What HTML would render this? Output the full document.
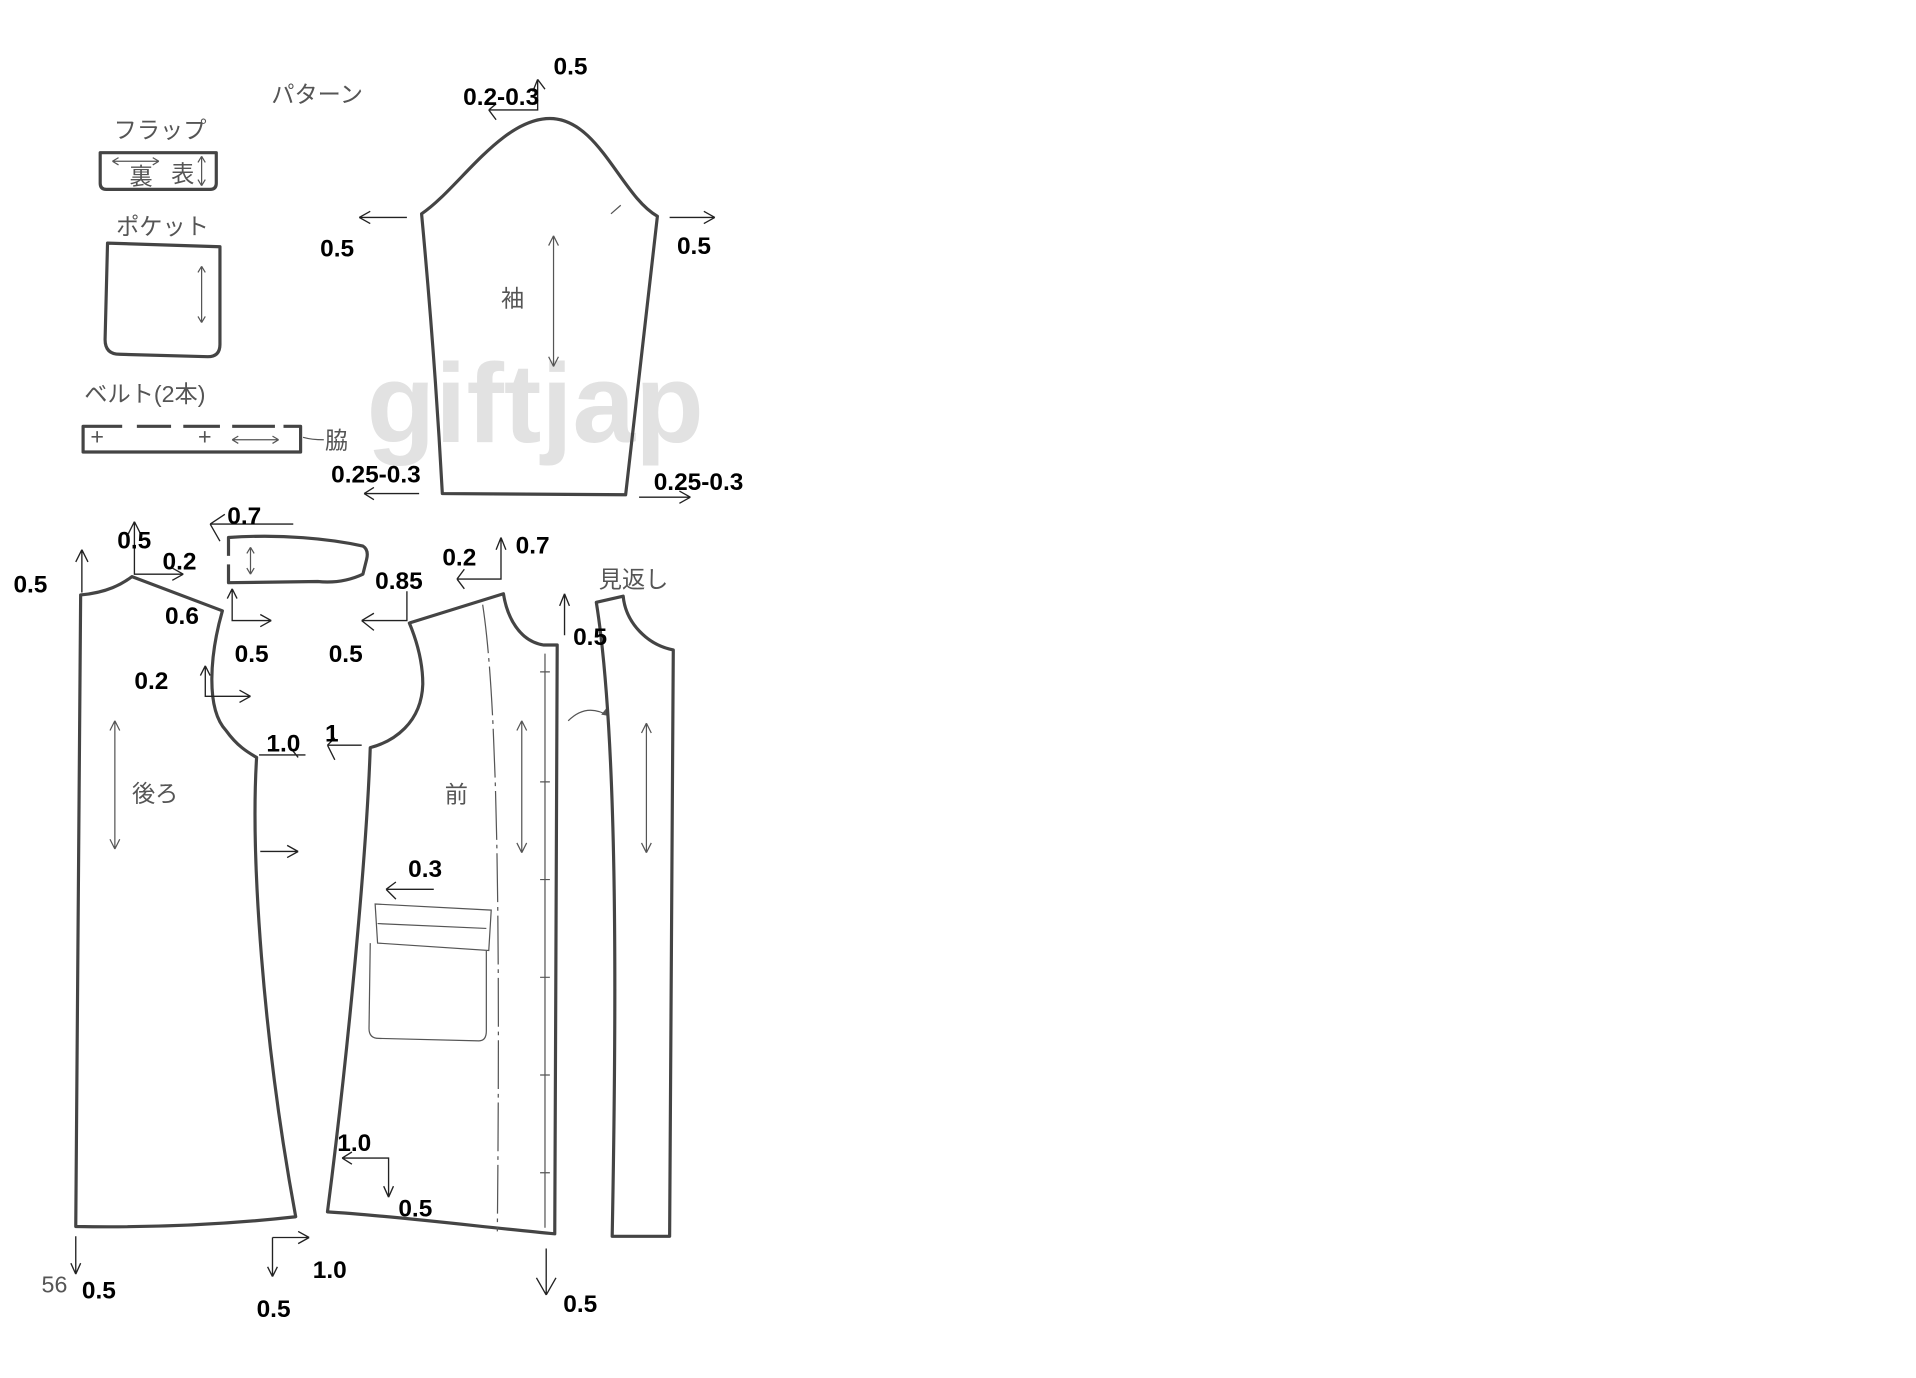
<!DOCTYPE html>
<html><head><meta charset="utf-8"><style>
html,body{margin:0;padding:0;background:#fff;}
svg{display:block;}
.p{fill:none;stroke:#444;stroke-width:2.6;stroke-linejoin:round;}
.t{fill:none;stroke:#555;stroke-width:1;}
.a{fill:none;stroke:#222;stroke-width:1.1;}
.n{font-family:"Liberation Sans",sans-serif;font-weight:bold;font-size:20px;fill:#000;}
.j{font-family:"Liberation Sans","Noto Sans CJK JP",sans-serif;font-size:19px;fill:#555;}
</style></head><body>
<svg width="1916" height="1378" viewBox="0 0 1568 1128" preserveAspectRatio="none" xmlns="http://www.w3.org/2000/svg">
<text x="300" y="362" font-family="Liberation Sans,sans-serif" font-weight="bold" font-size="92" fill="#e2e2e2">giftjap</text>
<text class="j" x="222" y="84" font-size="23">パターン</text>
<text class="j" x="93" y="113">フラップ</text>
<path class="p" d="M82,125 L177,125 L177,150 Q177,155 172,155 L87,155 Q82,155 82,150 Z"/>
<text class="j" x="106" y="151" font-size="15">裏</text><text class="j" x="140" y="149" font-size="15">表</text>
<path class="t" d="M92,132 L130,132 M92,132 l5,-3 M92,132 l5,3 M130,132 l-5,-3 M130,132 l-5,3 M165,128 L165,152 M165,128 l-3,5 M165,128 l3,5 M165,152 l-3,-5 M165,152 l3,-5"/>
<text class="j" x="95" y="192">ポケット</text>
<path class="p" d="M88,199 L180,202 L180,282 Q180,292 170,292 L98,290 Q86,290 86,278 Z"/>
<path class="t" d="M165,218 L165,264 M165,218 l-3,5 M165,218 l3,5 M165,264 l-3,-5 M165,264 l3,-5"/>
<text class="j" x="69" y="329" font-size="18">ベルト(2本)</text>
<path class="p" d="M68,349 L246,349 L246,370 L68,370 Z"/>
<path d="M100,349 L112,349 M140,349 L150,349 M180,349 L190,349 M225,349 L232,349" stroke="#fff" stroke-width="3"/>
<text class="j" x="74" y="364" font-size="11">+</text><text class="j" x="162" y="364" font-size="11">+</text>
<path class="t" d="M190,360 L228,360 M190,360 l5,-3 M190,360 l5,3 M228,360 l-5,-3 M228,360 l-5,3 M248,358 Q255,360 265,360"/>
<text class="j" x="266" y="367" font-size="15">脇</text>
<!-- sleeve -->
<path class="p" d="M345,175 C375,155 410,97 450,97 C490,97 508,160 538,177 L512,405 L362,404 C358,330 352,250 345,175 Z"/>
<path class="t" d="M453,193 L453,300 M453,193 l-4,8 M453,193 l4,8 M453,300 l-4,-8 M453,300 l4,-8 M500,175 L508,168"/>
<text class="j" x="410" y="251">袖</text>
<path class="a" d="M400,90 L440,90 L440,65 M400,90 l6,-5 M400,90 l6,8 M440,65 l-4,10 M440,65 l6,8 M294,178 L333,178 M294,178 l9,-5 M294,178 l9,5 M548,178 L585,178 M585,178 l-9,-5 M585,178 l-9,5 M298,404 L343,404 M298,404 l8,-5 M298,404 l8,5 M523,407 L565,407 M565,407 l-9,-5 M565,407 l-9,5"/>
<text class="n" x="453" y="61">0.5</text><text class="n" x="379" y="86">0.2-0.3</text>
<text class="n" x="262" y="210">0.5</text><text class="n" x="554" y="208">0.5</text>
<text class="n" x="271" y="395">0.25-0.3</text><text class="n" x="535" y="401">0.25-0.3</text>
<!-- back -->
<path class="p" d="M66,487 C88,485 100,478 108,472 L182,500 C172,535 168,580 185,598 C195,612 205,617 210,620 C205,700 215,850 242,996 C180,1003 120,1005 62,1004 Z"/>
<path class="t" d="M94,590 L94,695 M94,590 l-4,8 M94,590 l4,8 M94,695 l-4,-8 M94,695 l4,-8"/>
<text class="j" x="108" y="656">後ろ</text>
<!-- collar -->
<path class="p" d="M187,440 C230,437 270,441 297,447 Q302,450 300,458 L297,470 Q280,478 260,476 L187,477 Z"/>
<path d="M187,455 L187,462" stroke="#fff" stroke-width="4"/>
<path class="t" d="M205,448 L205,470 M205,448 l-3,5 M205,448 l3,5 M205,470 l-3,-5 M205,470 l3,-5"/>
<!-- front -->
<path class="p" d="M335,510 L412,486 C415,505 425,525 445,528 L456,528 L454,1010 C400,1005 320,995 268,992 C285,860 300,700 303,612 C322,607 345,592 346,560 C346,540 340,522 335,510 Z"/>
<path class="t" d="M395,495 C405,560 410,700 407,1008" stroke-dasharray="40,4,3,4"/>
<path class="t" d="M446,535 L446,1005 M442,550 L450,550 M442,640 L450,640 M442,720 L450,720 M442,800 L450,800 M442,880 L450,880 M442,960 L450,960"/>
<path class="t" d="M427,590 L427,698 M427,590 l-4,8 M427,590 l4,8 M427,698 l-4,-8 M427,698 l4,-8 M465,590 Q480,575 498,586"/>
<path d="M498,586 l-6,-1 l4,-5 Z" fill="#555"/>
<text class="j" x="364" y="657">前</text>
<path class="t" d="M307,740 L402,745 L400,778 L309,772 Z M309,756 L398,760 M303,772 L302,842 Q302,850 310,850 L392,852 Q398,852 398,844 L398,778"/>
<!-- facing -->
<path class="p" d="M488,493 L510,488 C512,510 530,528 551,532 L548,1012 L501,1012 C505,800 505,600 488,493 Z"/>
<path class="t" d="M529,592 L529,698 M529,592 l-4,8 M529,592 l4,8 M529,698 l-4,-8 M529,698 l4,-8"/>
<text class="j" x="490" y="481">見返し</text>
<!-- body arrows -->
<path class="a" d="M67,450 L67,485 M67,450 l-5,10 M67,450 l5,10 M110,427 L110,470 L150,470 M110,427 l-5,10 M110,427 l5,10 M150,470 l-9,-5 M150,470 l-9,5 M172,429 L240,429 M172,429 l12,-8 M172,429 l8,14 M190,482 L190,508 L222,508 M190,482 l-4,8 M190,482 l4,8 M222,508 l-9,-5 M222,508 l-9,5 M168,545 L168,570 L205,570 M168,545 l-4,8 M168,545 l4,8 M205,570 l-9,-5 M205,570 l-9,5 M212,618 L250,618 M236,610 l8,10 M296,610 L268,610 M268,610 l6,-6 M268,610 l6,12 M213,697 L244,697 M244,697 l-9,-5 M244,697 l-9,5 M333,484 L333,508 L296,508 M296,508 l10,-6 M296,508 l10,8 M410,440 L410,474 L374,474 M410,440 l-4,10 M410,440 l4,10 M374,474 l6,-8 M374,474 l6,8 M462,486 L462,520 M462,486 l-4,10 M462,486 l4,10 M316,728 L355,728 M316,728 l8,-6 M316,728 l8,8 M280,948 L318,948 L318,980 M280,948 l8,-5 M280,948 l8,5 M318,980 l-4,-9 M318,980 l4,-9 M223,1013 L253,1013 M223,1013 L223,1045 M253,1013 l-9,-5 M253,1013 l-9,5 M223,1045 l-4,-8 M223,1045 l4,-8 M62,1012 L62,1043 M62,1043 l-4,-9 M62,1043 l4,-9 M447,1022 L447,1060 M447,1060 l-8,-14 M447,1060 l8,-14"/>
<text class="n" x="11" y="485">0.5</text><text class="n" x="96" y="449">0.5</text><text class="n" x="133" y="466">0.2</text>
<text class="n" x="186" y="429">0.7</text><text class="n" x="135" y="511">0.6</text><text class="n" x="192" y="542">0.5</text>
<text class="n" x="269" y="542">0.5</text><text class="n" x="307" y="482">0.85</text><text class="n" x="362" y="463">0.2</text>
<text class="n" x="422" y="453">0.7</text><text class="n" x="469" y="528">0.5</text><text class="n" x="110" y="564">0.2</text>
<text class="n" x="218" y="615">1.0</text><text class="n" x="266" y="607">1</text><text class="n" x="334" y="718">0.3</text>
<text class="n" x="276" y="942">1.0</text><text class="n" x="326" y="996">0.5</text><text class="n" x="256" y="1046">1.0</text>
<text class="n" x="210" y="1078">0.5</text><text class="n" x="67" y="1063">0.5</text><text class="n" x="461" y="1074">0.5</text>
<text class="j" x="34" y="1058" font-size="17">56</text>
</svg>
</body></html>
